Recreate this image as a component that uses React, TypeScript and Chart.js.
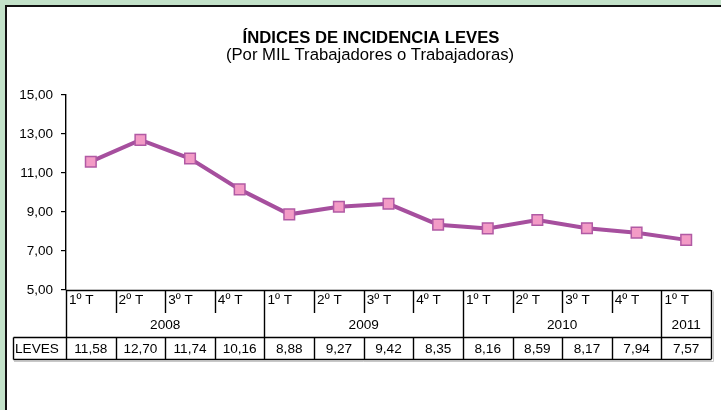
import React, { useEffect, useRef } from "react";
import { Chart, registerables } from "chart.js";

Chart.register(...registerables);

const TITLE = "ÍNDICES DE INCIDENCIA LEVES";
const SUBTITLE = "(Por MIL Trabajadores o Trabajadoras)";
const SERIES_NAME = "LEVES";
const QUARTERS = ["1º T", "2º T", "3º T", "4º T", "1º T", "2º T", "3º T", "4º T", "1º T", "2º T", "3º T", "4º T", "1º T"];
const YEARS = ["2008", "2008", "2008", "2008", "2009", "2009", "2009", "2009", "2010", "2010", "2010", "2010", "2011"];
const VALUES = [11.58, 12.7, 11.74, 10.16, 8.88, 9.27, 9.42, 8.35, 8.16, 8.59, 8.17, 7.94, 7.57];
const Y_MIN = 5;
const Y_MAX = 15;
const Y_STEP = 2;

const FONT_FAMILY = "'Liberation Sans', Arial, sans-serif";
const fmt = (v: number) => v.toFixed(2).replace(".", ",");

const framePlugin = {
  id: "frame",
  beforeDraw(chart: any) {
    const { ctx, width, height } = chart;
    ctx.save();
    ctx.fillStyle = "#c3e2c9";
    ctx.fillRect(0, 0, width, height);
    ctx.fillStyle = "#ffffff";
    ctx.fillRect(6, 6, width - 6, height - 6);
    ctx.fillStyle = "#111111";
    ctx.fillRect(5, 5, width - 5, 2);
    ctx.fillRect(5, 5, 2, height - 5);
    // titles
    ctx.fillStyle = "#000";
    ctx.textAlign = "center";
    ctx.textBaseline = "middle";
    ctx.font = `bold 16.7px ${FONT_FAMILY}`;
    ctx.fillText(TITLE, 371, 38);
    ctx.font = `16.7px ${FONT_FAMILY}`;
    ctx.fillText(SUBTITLE, 370, 55);
    ctx.restore();
  },
  afterDraw(chart: any) {
    const { ctx, chartArea } = chart;
    const xs = chart.scales.x;
    const n = QUARTERS.length;
    const left = chartArea.left;
    const right = chartArea.right;
    const bottom = chartArea.bottom;
    const bounds: number[] = [left];
    for (let i = 1; i < n; i++) {
      bounds.push((xs.getPixelForValue(i - 1) + xs.getPixelForValue(i)) / 2);
    }
    bounds.push(right);
    const rowQ = bottom + 10;
    const qSepBottom = bottom + 23;
    const rowY = bottom + 35;
    const tableTop = bottom + 47;
    const tableBottom = bottom + 69;
    const tableLeft = 13;
    const al = (v: number) => Math.round(v) + 0.5;

    ctx.save();
    ctx.lineWidth = 1;
    // shadow
    ctx.strokeStyle = "#c8c8c8";
    ctx.beginPath();
    ctx.moveTo(tableLeft + 1, al(tableBottom + 2));
    ctx.lineTo(al(right + 2), al(tableBottom + 2));
    ctx.lineTo(al(right + 2), al(bottom + 1));
    ctx.stroke();
    ctx.strokeStyle = "#000";
    ctx.lineWidth = 1.4;
    ctx.beginPath();
    // horizontal lines
    ctx.moveTo(left, al(bottom));
    ctx.lineTo(right, al(bottom));
    ctx.moveTo(al(tableLeft), al(tableTop));
    ctx.lineTo(al(right), al(tableTop));
    ctx.moveTo(al(tableLeft), al(tableBottom));
    ctx.lineTo(al(right), al(tableBottom));
    // table left border
    ctx.moveTo(al(tableLeft), al(tableTop));
    ctx.lineTo(al(tableLeft), al(tableBottom));
    // vertical lines
    for (let i = 0; i <= n; i++) {
      const x = al(bounds[i]);
      const isYearBoundary = i === 0 || i === n || YEARS[i] !== YEARS[i - 1];
      ctx.moveTo(x, bottom);
      ctx.lineTo(x, isYearBoundary ? tableBottom : qSepBottom);
      if (!isYearBoundary) {
        ctx.moveTo(x, tableTop);
        ctx.lineTo(x, tableBottom);
      }
    }
    ctx.stroke();

    ctx.fillStyle = "#000";
    ctx.font = `13.6px ${FONT_FAMILY}`;
    ctx.textBaseline = "middle";
    ctx.textAlign = "left";
    for (let i = 0; i < n; i++) {
      ctx.fillText(QUARTERS[i], bounds[i] + 3, rowQ);
    }
    // years
    ctx.textAlign = "center";
    let start = 0;
    for (let i = 1; i <= n; i++) {
      if (i === n || YEARS[i] !== YEARS[start]) {
        ctx.fillText(YEARS[start], (bounds[start] + bounds[i]) / 2, rowY);
        start = i;
      }
    }
    // values
    for (let i = 0; i < n; i++) {
      ctx.fillText(fmt(VALUES[i]), (bounds[i] + bounds[i + 1]) / 2, (tableTop + tableBottom) / 2 + 1);
    }
    ctx.textAlign = "left";
    ctx.fillText(SERIES_NAME, tableLeft + 2, (tableTop + tableBottom) / 2 + 1);
    ctx.restore();
  },
};

export default function App() {
  const ref = useRef<HTMLCanvasElement | null>(null);
  useEffect(() => {
    if (!ref.current) return;
    const chart = new Chart(ref.current, {
      type: "line",
      data: {
        labels: QUARTERS.map((q, i) => `${q} ${YEARS[i]}`),
        datasets: [
          {
            label: SERIES_NAME,
            data: VALUES,
            borderColor: "#a64f9e",
            borderWidth: 4,
            tension: 0,
            pointStyle: "rect",
            pointRadius: 7.5,
            pointBackgroundColor: "#f39bc6",
            pointBorderColor: "#b15aa4",
            pointBorderWidth: 1.5,
          },
        ],
      },
      options: {
        animation: false,
        responsive: false,
        devicePixelRatio: 1,
        layout: { padding: { left: 7, top: 95, right: 10, bottom: 120 } },
        plugins: { legend: { display: false }, title: { display: false }, tooltip: { enabled: false } },
        scales: {
          x: { type: "category", display: false, offset: true },
          y: {
            min: Y_MIN,
            max: Y_MAX,
            afterFit: (s: any) => {
              s.width = 59;
            },
            ticks: {
              stepSize: Y_STEP,
              color: "#000",
              padding: 8,
              font: { family: FONT_FAMILY, size: 13.5 },
              callback: (v: any) => fmt(Number(v)),
            },
            grid: { drawOnChartArea: false, drawTicks: true, tickLength: 5, color: "#000", lineWidth: 1.2 },
            border: { display: true, color: "#000", width: 1.4 },
          },
        },
      },
      plugins: [framePlugin],
    });
    return () => chart.destroy();
  }, []);
  return (
    <div style={{ position: "fixed", left: 0, top: 0, width: 721, height: 410 }}>
      <canvas ref={ref} width={721} height={410} style={{ width: 721, height: 410 }} />
    </div>
  );
}
